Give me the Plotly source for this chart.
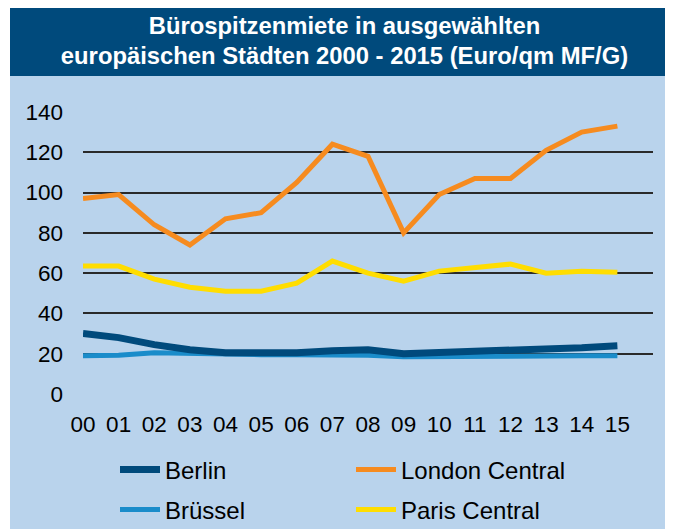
import plotly.graph_objects as go

years = ["00", "01", "02", "03", "04", "05", "06", "07", "08", "09", "10", "11", "12", "13", "14", "15"]
berlin = [30, 28, 24.5, 22, 20.5, 20.5, 20.5, 21.5, 22, 20, 20.5, 21.5, 22, 22.5, 23, 24]
bruessel = [19, 19.2, 20.5, 20, 19.5, 19.5, 19.5, 19.5, 19.2, 18.5, 18.7, 19, 19, 19, 19, 19]
london = [97, 99, 84, 74, 87, 90, 105, 124, 118, 80, 99, 107, 107, 121, 130, 133]
paris = [63.5, 63.5, 57, 53, 51, 51, 55, 66, 60, 56, 61, 62.5, 64.5, 60, 61, 60.5]
y_ticks = [0, 20, 40, 60, 80, 100, 120, 140]

TITLE = "<b>Bürospitzenmiete in ausgewählten<br>europäischen Städten 2000 - 2015 (Euro/qm MF/G)</b>"

C_BERLIN = "#004a7c"
C_BRUESSEL = "#1a8cca"
C_LONDON = "#f68b1f"
C_PARIS = "#ffdd00"
C_BG = "#b9d3ec"
C_BAR = "#004a7c"
FONT = "Liberation Sans, Arial, sans-serif"

W, H = 673, 529
# plot area in figure pixels (page adds an 8px body margin)
PL, PR, PT, PB = 75, 645, 104, 386


def px(xp):
    return xp / W


def py(yp):
    return (H - yp) / H


fig = go.Figure()
# draw order: Brüssel under Berlin
fig.add_trace(go.Scatter(x=years, y=bruessel, name="Brüssel", mode="lines",
                         line=dict(color=C_BRUESSEL, width=5), legend="legend2", legendrank=1))
fig.add_trace(go.Scatter(x=years, y=berlin, name="Berlin", mode="lines",
                         line=dict(color=C_BERLIN, width=7), legend="legend", legendrank=1))
fig.add_trace(go.Scatter(x=years, y=london, name="London Central", mode="lines",
                         line=dict(color=C_LONDON, width=5), legend="legend", legendrank=2))
fig.add_trace(go.Scatter(x=years, y=paris, name="Paris Central", mode="lines",
                         line=dict(color=C_PARIS, width=5), legend="legend2", legendrank=2))

legend_common = dict(orientation="h", xanchor="left", yanchor="middle",
                     bgcolor="rgba(0,0,0,0)", font=dict(family=FONT, size=24, color="black"),
                     entrywidth=181, entrywidthmode="pixels", itemwidth=40)

fig.update_layout(
    width=W, height=H,
    margin=dict(l=0, r=0, t=0, b=0, pad=0, autoexpand=False),
    paper_bgcolor="white",
    plot_bgcolor=C_BG,
    font=dict(family=FONT, color="black"),
    title=dict(text=TITLE, x=0.5, xanchor="center", xref="container",
               y=1 - 25.5 / H, yanchor="middle", yref="container",
               font=dict(family=FONT, size=23.8, color="white")),
    showlegend=True,
    legend=dict(x=px(107), y=py(462), **legend_common),
    legend2=dict(x=px(107), y=py(502), **legend_common),
    shapes=[
        dict(type="rect", xref="paper", yref="paper", x0=px(2), x1=px(W), y0=py(H), y1=py(0),
             fillcolor=C_BG, line=dict(width=0), layer="below"),
        dict(type="rect", xref="paper", yref="paper", x0=px(2), x1=px(W), y0=py(68), y1=py(0),
             fillcolor=C_BAR, line=dict(width=0), layer="below"),
    ],
)

fig.update_xaxes(type="category", range=[0, 16], domain=[px(PL), px(PR)],
                 showgrid=False, zeroline=False, showline=False,
                 ticks="", tickfont=dict(family=FONT, size=22.5, color="black"),
                 ticklabelstandoff=14, fixedrange=True)
fig.update_yaxes(range=[0, 140], domain=[py(PB), py(PT)], tickvals=y_ticks,
                 showgrid=True, gridcolor="#2a2a2a", gridwidth=1.5,
                 zeroline=False, showline=False, ticks="",
                 tickfont=dict(family=FONT, size=22.5, color="black"),
                 ticklabelstandoff=19, fixedrange=True)

fig.write_html("out.html")
